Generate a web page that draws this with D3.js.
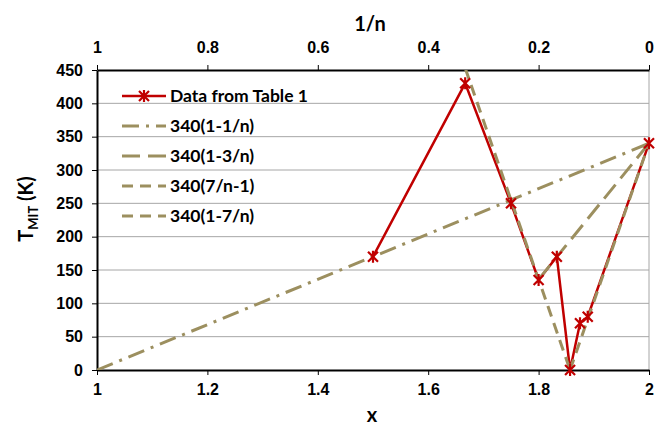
<!DOCTYPE html>
<html>
<head>
<meta charset="utf-8">
<script src="https://cdn.jsdelivr.net/npm/d3@7"></script>
<style>
  body { margin: 0; background: #fff; }
  svg { font-family: Lato, "Liberation Sans", sans-serif; font-weight: bold; }
  .tick text { font-size: 16px; font-weight: bold; fill: #000; }
</style>
</head>
<body>
<svg width="666" height="428"></svg>
<script>
// data
var xTable = [1.5, 1.667, 1.75, 1.8, 1.833, 1.857, 1.875, 1.889, 2];
var tTable = [170, 430, 250, 135, 170, 0, 70, 80, 340];

// end points of the model lines (x, T)
var model1 = [[1, 0], [2, 340]];          // 340(1-1/n)
var model3 = [[1.8, 136], [2, 340]];      // 340(1-3/n)
var model7a = [[1.667, 453], [1.857, 0]]; // 340(7/n-1)
var model7b = [[1.857, 0], [2, 340]];     // 340(1-7/n)

var xTicks = [1, 1.2, 1.4, 1.6, 1.8, 2];
var invTicks = [1, 0.8, 0.6, 0.4, 0.2, 0];
var yTicks = [0, 50, 100, 150, 200, 250, 300, 350, 400, 450];

var legendNames = ["Data from Table 1", "340(1-1/n)", "340(1-3/n)", "340(7/n-1)", "340(1-7/n)"];

var red = "#c00000", olive = "#9c8f5f";

var svg = d3.select("svg"),
    margin = {top: 70, right: 17, bottom: 58, left: 97},
    width = +svg.attr("width") - margin.left - margin.right,
    height = +svg.attr("height") - margin.top - margin.bottom;

var x = d3.scaleLinear().domain([1, 2]).range([0, width]);
var xInv = d3.scaleLinear().domain([1, 0]).range([0, width]);
var y = d3.scaleLinear().domain([0, 450]).range([height, 0]);

var g = svg.append("g")
    .attr("transform", "translate(" + margin.left + "," + margin.top + ")");

g.append("clipPath").attr("id", "plot")
  .append("rect").attr("width", width).attr("height", height);

// grid
g.selectAll(".grid").data(yTicks.filter(function(d) { return d > 0 && d < 450; }))
  .enter().append("line")
    .attr("x1", 0).attr("x2", width)
    .attr("y1", function(d) { return y(d); })
    .attr("y2", function(d) { return y(d); })
    .attr("stroke", "#a6a6a6").attr("stroke-width", 1);

g.append("line")
    .attr("x1", width).attr("x2", width).attr("y1", 0).attr("y2", height)
    .attr("stroke", "#a6a6a6").attr("stroke-width", 1);

// axes
function styleAxis(sel) {
  sel.select(".domain").attr("stroke", "#000").attr("stroke-width", 2);
  sel.selectAll(".tick line").attr("stroke", "#000").attr("stroke-width", 1);
}

var fmt = function(d) { return d3.format("")(+d.toFixed(1)); };

g.append("g")
    .attr("transform", "translate(0," + height + ")")
    .call(d3.axisBottom(x).tickValues(xTicks).tickSize(5).tickSizeOuter(0).tickPadding(9).tickFormat(fmt))
    .call(styleAxis);

g.append("g")
    .call(d3.axisTop(xInv).tickValues(invTicks).tickSize(5).tickSizeOuter(0).tickPadding(12).tickFormat(fmt))
    .call(styleAxis);

g.append("g")
    .call(d3.axisLeft(y).tickValues(yTicks).tickSize(5).tickSizeOuter(0).tickPadding(9))
    .call(styleAxis);

// titles
svg.append("text")
    .attr("x", 370).attr("y", 31)
    .attr("text-anchor", "middle").attr("font-size", 20).text("1/n");

svg.append("text")
    .attr("x", 372).attr("y", 422)
    .attr("text-anchor", "middle").attr("font-size", 20).text("x");

var yt = svg.append("text")
    .attr("transform", "translate(33,209) rotate(-90)")
    .attr("text-anchor", "middle").attr("font-size", 20);
yt.append("tspan").text("T");
yt.append("tspan").attr("font-size", 13).attr("dy", 5).text("MIT");
yt.append("tspan").attr("dy", -5).text(" (K)");

// lines
var line = d3.line()
    .x(function(d) { return x(d[0]); })
    .y(function(d) { return y(d[1]); });

var plot = g.append("g").attr("clip-path", "url(#plot)");

var tableData = xTable.map(function(v, i) { return [v, tTable[i]]; });

plot.append("path").datum(tableData)
    .attr("d", line).attr("fill", "none")
    .attr("stroke", red).attr("stroke-width", 2.5);

var models = [
  {pts: model1, dash: "17,7,3,7"},
  {pts: model3, dash: "18,8"},
  {pts: model7a, dash: "11,7"},
  {pts: model7b, dash: "11,7"}
];

plot.selectAll(".model").data(models).enter().append("path")
    .attr("d", function(d) { return line(d.pts); })
    .attr("fill", "none")
    .attr("stroke", olive).attr("stroke-width", 3)
    .attr("stroke-dasharray", function(d) { return d.dash; });

var star = "M-5,-5L5,5M-5,5L5,-5M0,-6L0,6";

g.selectAll(".marker").data(tableData).enter().append("path")
    .attr("transform", function(d) { return "translate(" + x(d[0]) + "," + y(d[1]) + ")"; })
    .attr("d", star).attr("stroke", red).attr("stroke-width", 2.2).attr("fill", "none");

// legend
var legDash = [null, "17,7,3,7", "18,8", "11,7", "11,7"];
var leg = svg.append("g").selectAll("g").data(legendNames).enter().append("g")
    .attr("transform", function(d, i) { return "translate(122," + (96 + i * 30) + ")"; });

leg.append("line")
    .attr("x1", 0).attr("x2", 44).attr("y1", 0).attr("y2", 0)
    .attr("stroke", function(d, i) { return i === 0 ? red : olive; })
    .attr("stroke-width", function(d, i) { return i === 0 ? 2.5 : 3; })
    .attr("stroke-dasharray", function(d, i) { return legDash[i]; });

leg.filter(function(d, i) { return i === 0; }).append("path")
    .attr("transform", "translate(22,0)")
    .attr("d", star).attr("stroke", red).attr("stroke-width", 2.2).attr("fill", "none");

leg.append("text")
    .attr("x", 48).attr("y", 6)
    .attr("font-size", 17.5).text(function(d) { return d; });
</script>
</body>
</html>
